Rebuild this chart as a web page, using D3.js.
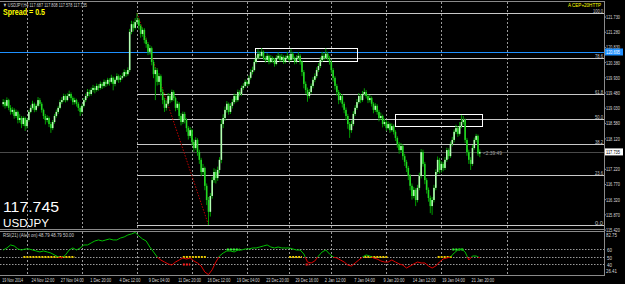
<!DOCTYPE html>
<html><head><meta charset="utf-8">
<script src="https://cdn.jsdelivr.net/npm/d3@7"></script>
<style>body{margin:0;background:#000;}svg{display:block;}text{font-family:"Liberation Sans",Arial,sans-serif;}</style>
</head><body><svg id="c" width="625" height="284"></svg>
<script>
const open = [119.15,119.21,119.10,119.27,119.04,118.92,118.98,118.80,118.92,118.68,
118.74,118.56,118.74,118.50,118.68,118.92,119.04,119.16,118.98,119.10,
119.27,119.16,118.98,118.80,118.68,118.74,118.56,118.44,118.62,118.80,
118.92,119.04,119.21,119.27,119.39,119.27,119.39,119.45,119.33,119.21,
119.27,119.16,119.04,118.92,119.10,119.27,119.39,119.51,119.45,119.57,
119.63,119.57,119.69,119.63,119.75,119.69,119.81,119.75,119.87,119.81,
119.93,119.75,119.87,119.98,119.87,119.93,119.98,120.10,120.04,120.16,
121.29,121.52,121.41,121.58,121.64,121.47,121.23,121.35,121.05,120.93,
120.70,120.81,120.40,120.04,120.16,119.81,119.98,119.51,119.27,119.04,
119.16,119.39,119.27,119.51,119.33,119.04,119.16,118.80,118.62,118.86,
118.68,118.44,118.21,118.38,118.03,117.85,118.09,117.73,117.50,117.14,
117.26,116.73,116.31,115.96,116.43,116.90,117.14,116.96,117.20,117.50,
118.56,118.74,118.98,119.16,118.92,119.10,119.21,119.39,119.27,119.51,
119.45,119.63,119.69,119.81,119.75,119.93,120.10,120.16,120.40,120.52,
120.64,120.58,120.70,120.52,120.46,120.58,120.40,120.52,120.46,120.34,
120.52,120.58,120.46,120.55,120.40,120.52,120.58,120.46,120.64,120.52,
120.40,120.52,120.58,120.40,120.10,119.75,119.57,119.39,119.51,119.69,
119.87,119.98,120.16,120.28,120.46,120.58,120.52,120.64,120.52,120.40,
120.16,119.93,119.69,119.51,119.27,119.39,119.16,118.98,118.80,118.56,
118.38,118.56,118.86,119.04,119.21,119.39,119.27,119.45,119.51,119.39,
119.27,119.33,119.16,118.98,119.10,118.92,118.74,118.80,118.56,118.62,
118.44,118.56,118.38,118.50,118.33,118.15,117.97,117.79,117.91,117.61,
117.44,117.26,117.02,116.73,116.43,116.61,116.31,116.67,117.02,117.73,
117.38,116.90,116.61,116.37,116.13,116.31,116.67,117.14,117.50,117.20,
117.38,117.26,117.50,117.79,117.61,117.97,118.09,118.33,118.44,118.27,
118.50,118.62,118.68,118.09,117.73,117.50,117.38,117.85,118.09,118.21,117.687];
const high = [119.30,119.28,119.35,119.31,119.12,119.06,119.03,118.99,118.96,118.85,
118.80,118.79,118.78,118.73,118.98,119.12,119.25,119.20,119.16,119.36,
119.33,119.21,119.02,118.86,118.82,118.79,118.62,118.68,118.86,118.99,
119.10,119.28,119.36,119.46,119.44,119.47,119.55,119.50,119.38,119.34,
119.31,119.21,119.09,119.16,119.33,119.46,119.60,119.58,119.64,119.72,
119.69,119.76,119.74,119.82,119.80,119.88,119.86,119.93,119.92,120.02,
119.97,119.94,120.06,120.03,120.01,120.08,120.18,120.16,120.24,121.38,
121.62,121.60,121.70,121.85,121.70,121.52,121.42,121.40,121.12,120.99,
120.90,120.86,120.46,120.24,120.22,120.07,120.03,119.60,119.34,119.26,
119.48,119.46,119.58,119.56,119.38,119.24,119.21,118.88,118.93,118.92,
118.73,118.50,118.47,118.42,118.10,118.17,118.14,117.80,117.56,117.38,
117.30,116.80,116.40,116.52,117.00,117.25,117.22,117.30,117.58,118.70,
118.85,119.08,119.24,119.20,119.18,119.30,119.46,119.45,119.58,119.56,
119.70,119.77,119.88,119.86,120.00,120.18,120.26,120.48,120.60,120.78,
120.72,120.81,120.74,120.58,120.66,120.62,120.60,120.57,120.52,120.60,
120.68,120.63,120.64,120.60,120.59,120.70,120.62,120.79,120.70,120.56,
120.60,120.69,120.63,120.45,120.16,119.82,119.64,119.60,119.76,119.95,
120.06,120.24,120.36,120.54,120.70,120.66,120.80,120.70,120.58,120.45,
120.22,119.98,119.75,119.57,119.48,119.44,119.22,119.05,118.86,118.62,
118.66,118.94,119.12,119.30,119.48,119.45,119.54,119.62,119.57,119.44,
119.42,119.38,119.21,119.18,119.15,118.98,118.90,118.84,118.72,118.68,
118.64,118.60,118.58,118.55,118.38,118.20,118.03,118.00,117.96,117.68,
117.50,117.32,117.08,116.80,116.70,116.66,116.76,117.12,117.82,117.80,
117.44,116.96,116.68,116.44,116.40,116.76,117.22,117.60,117.56,117.46,
117.44,117.58,117.86,117.84,118.04,118.18,118.40,118.54,118.50,118.62,
118.83,118.80,118.72,118.15,117.80,117.58,117.94,118.16,118.27,118.25,117.808];
const low = [119.08,119.02,119.05,118.97,118.84,118.85,118.72,118.74,118.58,118.60,
118.44,118.50,118.36,118.42,118.63,118.88,118.99,118.91,118.93,119.05,
119.09,118.90,118.71,118.55,118.61,118.47,118.30,118.38,118.57,118.75,
118.86,119.00,119.15,119.22,119.20,119.23,119.34,119.26,119.13,119.14,
119.08,118.95,118.80,118.87,119.05,119.21,119.33,119.38,119.40,119.50,
119.47,119.52,119.55,119.58,119.60,119.64,119.66,119.70,119.70,119.76,
119.56,119.68,119.82,119.78,119.80,119.88,119.94,119.96,119.99,120.10,
121.22,121.30,121.36,121.50,121.36,121.12,121.15,120.95,120.82,120.60,
120.62,120.30,119.92,119.27,119.70,119.72,119.40,119.15,118.92,118.96,
119.10,119.18,119.22,119.25,118.94,118.98,118.70,118.52,118.56,118.58,
118.33,118.10,118.15,117.92,117.74,117.80,117.62,117.38,117.02,117.06,
116.60,116.16,115.57,115.82,116.35,116.82,116.80,116.88,117.10,117.40,
118.44,118.66,118.90,118.84,118.86,119.02,119.15,119.20,119.22,119.38,
119.40,119.57,119.64,119.68,119.70,119.88,120.03,120.12,120.35,120.47,
120.50,120.54,120.46,120.38,120.42,120.33,120.36,120.38,120.26,120.30,
120.47,120.40,120.41,120.34,120.36,120.47,120.39,120.42,120.45,120.33,
120.35,120.46,120.32,119.98,119.62,119.46,119.22,119.32,119.46,119.62,
119.80,119.92,120.10,120.22,120.40,120.44,120.48,120.44,120.32,120.06,
119.82,119.58,119.40,119.15,119.20,119.05,118.88,118.68,118.42,118.15,
118.30,118.50,118.80,118.98,119.16,119.18,119.22,119.40,119.32,119.18,
119.20,119.08,118.88,118.92,118.84,118.64,118.68,118.46,118.50,118.36,
118.40,118.30,118.33,118.25,118.06,117.86,117.68,117.72,117.50,117.32,
117.14,116.90,116.60,116.32,116.36,116.13,116.24,116.60,116.95,117.30,
116.78,116.50,116.26,115.92,115.87,116.24,116.60,117.08,117.10,117.12,
117.16,117.20,117.44,117.52,117.56,117.90,118.02,118.26,118.18,118.22,
118.44,118.54,118.00,117.62,117.38,117.20,117.32,117.80,118.02,117.62,117.578];
const close = [119.21,119.10,119.27,119.04,118.92,118.98,118.80,118.92,118.68,118.74,
118.56,118.74,118.50,118.68,118.92,119.04,119.16,118.98,119.10,119.27,
119.16,118.98,118.80,118.68,118.74,118.56,118.44,118.62,118.80,118.92,
119.04,119.21,119.27,119.39,119.27,119.39,119.45,119.33,119.21,119.27,
119.16,119.04,118.92,119.10,119.27,119.39,119.51,119.45,119.57,119.63,
119.57,119.69,119.63,119.75,119.69,119.81,119.75,119.87,119.81,119.93,
119.75,119.87,119.98,119.87,119.93,119.98,120.10,120.04,120.16,121.29,
121.52,121.41,121.58,121.64,121.47,121.23,121.35,121.05,120.93,120.70,
120.81,120.40,120.04,120.16,119.81,119.98,119.51,119.27,119.04,119.16,
119.39,119.27,119.51,119.33,119.04,119.16,118.80,118.62,118.86,118.68,
118.44,118.21,118.38,118.03,117.85,118.09,117.73,117.50,117.14,117.26,
116.73,116.31,115.96,116.43,116.90,117.14,116.96,117.20,117.50,118.56,
118.74,118.98,119.16,118.92,119.10,119.21,119.39,119.27,119.51,119.45,
119.63,119.69,119.81,119.75,119.93,120.10,120.16,120.40,120.52,120.64,
120.58,120.70,120.52,120.46,120.58,120.40,120.52,120.46,120.34,120.52,
120.58,120.46,120.55,120.40,120.52,120.58,120.46,120.64,120.52,120.40,
120.52,120.58,120.40,120.10,119.75,119.57,119.39,119.51,119.69,119.87,
119.98,120.16,120.28,120.46,120.58,120.52,120.64,120.52,120.40,120.16,
119.93,119.69,119.51,119.27,119.39,119.16,118.98,118.80,118.56,118.38,
118.56,118.86,119.04,119.21,119.39,119.27,119.45,119.51,119.39,119.27,
119.33,119.16,118.98,119.10,118.92,118.74,118.80,118.56,118.62,118.44,
118.56,118.38,118.50,118.33,118.15,117.97,117.79,117.91,117.61,117.44,
117.26,117.02,116.73,116.43,116.61,116.31,116.67,117.02,117.73,117.38,
116.90,116.61,116.37,116.13,116.31,116.67,117.14,117.50,117.20,117.38,
117.26,117.50,117.79,117.61,117.97,118.09,118.33,118.44,118.27,118.50,
118.62,118.68,118.09,117.73,117.50,117.38,117.85,118.09,118.21,117.687,117.735];
// RSI(21), read every second bar
const rsi = [59.3,62,66,64.7,60.7,59.3,60.7,60.7,59.3,58,
56.7,58,56.7,55.3,52.7,50,48.7,52.7,59.3,62,
59.3,62,66,66,68.7,71.3,72.7,71.3,72.7,74,
72.7,72.7,75.3,76.7,79.3,80.7,82.7,78,74,71.3,
63.3,56.7,50,46,43.3,40.7,39.3,43.3,46,48.7,
47.3,48.7,44.7,42,38,30,26.5,33,43.3,51.3,
55.3,58,58,56.7,59.3,59.3,60.7,60.7,62,62,
63.3,64.7,66,63.3,62,63.3,62,62,62,60.7,
59.3,59.3,54,43.3,42,44.7,51.3,56.7,59.3,54,
50,48.7,46,43.3,39.3,38,42,46,50,52.7,
51.3,48.7,47.3,44.7,43.3,43.3,46,43.3,40.7,39.3,
35.3,38,40.7,43.3,42,42,38,35.3,38,43.3,
47.3,48.7,50,55.3,59.3,60.7,56.7,46,51.3,51.3,48.8];
const priceTicks = [121.730,121.280,120.830,120.380,119.930,119.480,119.030,118.580,118.120,117.220,116.770,116.320,115.870,115.420];
const rsiLevels = [60,50,40];
const fibLevels = [100.0,78.6,61.8,50.0,38.2,23.6,0.0];
const fibHigh = 121.85, fibLow = 115.57;
const timeLabels = ["19 Nov 2014","24 Nov 12:00","27 Nov 04:00","1 Dec 20:00","4 Dec 12:00","9 Dec 04:00","11 Dec 20:00","16 Dec 12:00","19 Dec 04:00","23 Dec 20:00","29 Dec 16:00","2 Jan 12:00","7 Jan 04:00","9 Jan 20:00","14 Jan 12:00","19 Jan 04:00","21 Jan 20:00"];
const gridBars = [13,43,73,103,133,156,179,209,239,275];
const boxes = [[137.4,193,120.81,120.43],[214,261.2,118.86,118.50]];
const trend = [[73,121.85],[112,115.57]];
const signalBands = [[11,39,50,"#e8c800"],[98,111,50,"#e8c800"],[156,163,50,"#e8c800"],[197,210,50,"#e8c800"],[237,245,50,"#e8c800"],[122,129,60,"#33ff33"],[245,251,60,"#33ff33"],[98,102,40,"#ff2020"],[165,167,40,"#ff2020"]];
const bluePrice = 120.695, bidPrice = 117.735;

const svg = d3.select("#c");
const x = d3.scaleLinear().domain([0,260]).range([3.2,479.8]);
const y = d3.scaleLinear().domain([115.57,121.85]).range([225,13]);
const yr = d3.scaleLinear().domain([26.41,82.75]).range([274.7,232.4]);
const AX = 604;
const grey="#8a8a8a";
const fs = (sel,size,len)=>sel.attr("font-size",size+"px").attr("textLength",len).attr("lengthAdjust","spacingAndGlyphs");

// panels
[[1.5],[229.5],[231.5],[275.5]].forEach(([yy])=>svg.append("line").attr("x1",0).attr("x2",AX).attr("y1",yy).attr("y2",yy).attr("stroke",grey));
svg.append("line").attr("x1",AX+0.5).attr("x2",AX+0.5).attr("y1",1).attr("y2",276).attr("stroke",grey);

// vertical grid
gridBars.forEach(b=>{
  const gx=Math.round(x(b))+0.5;
  if(gx>AX) return;
  svg.append("line").attr("x1",gx).attr("x2",gx).attr("y1",2).attr("y2",229).attr("stroke","#9a9a9a").attr("stroke-dasharray","2,2");
  svg.append("line").attr("x1",gx).attr("x2",gx).attr("y1",232).attr("y2",275).attr("stroke","#9a9a9a").attr("stroke-dasharray","2,2");
});

// fib lines
const fx0 = x(trend[0][0]);
fibLevels.forEach(l=>{
  const p = fibLow + (fibHigh-fibLow)*l/100;
  const yy = Math.round(y(p))+0.5;
  svg.append("line").attr("x1",fx0).attr("x2",AX).attr("y1",yy).attr("y2",yy).attr("stroke","#c8c8c8");
  fs(svg.append("text").attr("x",603).attr("y",yy-1).attr("text-anchor","end").attr("fill","#c8c8c8"),5,l===100?10:8).text(l.toFixed(1));
});

// blue line and bid line
svg.append("line").attr("x1",0).attr("x2",AX).attr("y1",Math.round(y(bluePrice))+0.5).attr("y2",Math.round(y(bluePrice))+0.5).attr("stroke","#1e90ff");
svg.append("line").attr("x1",0).attr("x2",AX).attr("y1",Math.round(y(bidPrice))+0.5).attr("y2",Math.round(y(bidPrice))+0.5).attr("stroke","#4a4a4a");

// boxes
boxes.forEach(b=>{
  const x0=Math.round(x(b[0]))+0.5, y0=Math.round(y(b[2]))+0.5;
  svg.append("rect").attr("x",x0).attr("y",y0).attr("width",Math.round(x(b[1])-x(b[0]))).attr("height",Math.round(y(b[3])-y(b[2]))).attr("fill","none").attr("stroke","#ffffff");
});

// trendline
svg.append("line").attr("x1",x(trend[0][0])).attr("y1",y(trend[0][1])).attr("x2",x(trend[1][0])).attr("y2",y(trend[1][1])).attr("stroke","#c00000").attr("stroke-dasharray","1.5,1.5");

// candles
const cg = svg.append("g");
close.forEach((c,i)=>{
  const o=open[i], cx = x(i);
  cg.append("line").attr("x1",cx).attr("x2",cx).attr("y1",y(high[i])).attr("y2",y(low[i])).attr("stroke","#009a00").attr("stroke-width",1);
  const top=y(Math.max(o,c)), bot=y(Math.min(o,c));
  cg.append("rect").attr("x",cx-0.8).attr("width",1.6).attr("y",top).attr("height",Math.max(0.8,bot-top)).attr("fill",c>=o?"#b4ffb4":"#22d822");
});

// price axis
priceTicks.forEach(p=>{
  const yy=y(p);
  svg.append("line").attr("x1",AX).attr("x2",AX+2).attr("y1",yy).attr("y2",yy).attr("stroke",grey);
  fs(svg.append("text").attr("x",606).attr("y",yy+2).attr("fill","#d8d8d8"),5,14).text(p.toFixed(3));
});
[[bluePrice,"#1e90ff","#ffffff"],[bidPrice,"#ffffff","#000000"]].forEach(([p,bg,fg])=>{
  const yy=y(p);
  svg.append("rect").attr("x",AX+1).attr("y",yy-3.5).attr("width",18).attr("height",7).attr("fill",bg);
  fs(svg.append("text").attr("x",606).attr("y",yy+2).attr("fill",fg),5,14).text(p.toFixed(3));
});

// RSI levels
rsiLevels.forEach(v=>{
  const yy=Math.round(yr(v))+0.5;
  svg.append("line").attr("x1",0).attr("x2",AX).attr("y1",yy).attr("y2",yy).attr("stroke","#9a9a9a").attr("stroke-dasharray","1.5,1.5");
  fs(svg.append("text").attr("x",607).attr("y",yy+2).attr("fill","#d8d8d8"),5.5,5).text(v);
});
fs(svg.append("text").attr("x",606).attr("y",237).attr("fill","#d8d8d8"),5.5,11).text("82.75");
fs(svg.append("text").attr("x",606).attr("y",273).attr("fill","#d8d8d8"),5.5,11).text("26.41");

// signal bands
signalBands.forEach(([a,b,lv,col])=>{
  svg.append("line").attr("x1",x(a)).attr("x2",x(b)).attr("y1",yr(lv)).attr("y2",yr(lv)).attr("stroke",col).attr("stroke-width",2).attr("stroke-dasharray","2,1");
});

// RSI line coloured above/below 50
const defs = svg.append("defs");
defs.append("clipPath").attr("id","above").append("rect").attr("x",0).attr("y",230).attr("width",AX).attr("height",yr(50)-230);
defs.append("clipPath").attr("id","below").append("rect").attr("x",0).attr("y",yr(50)).attr("width",AX).attr("height",276-yr(50));
const rline = d3.line().x((d,i)=>x(i*2)).y(d=>yr(d));
svg.append("path").attr("d",rline(rsi)).attr("fill","none").attr("stroke","#00c000").attr("clip-path","url(#above)");
svg.append("path").attr("d",rline(rsi)).attr("fill","none").attr("stroke","#e00000").attr("clip-path","url(#below)");

// time labels
timeLabels.forEach((t,k)=>{
  fs(svg.append("text").attr("x",x(k*16)-1).attr("y",282).attr("fill","#d8d8d8"),5.2,t.length*1.9).text(t);
});

// texts
fs(svg.append("text").attr("x",3).attr("y",6.5).attr("fill","#d0d0d0"),5.5,84).text("▼ USDJPY,H4  117.687 117.808 117.578 117.735");
fs(svg.append("text").attr("x",3).attr("y",14.5).attr("font-weight","bold").attr("fill","#ffff00"),9,42).text("Spread = 0.5");
fs(svg.append("text").attr("x",568).attr("y",7).attr("fill","#ffff00"),4.8,33).text("A CEP+20HTTP");
fs(svg.append("text").attr("x",3).attr("y",212).attr("fill","#ffffff"),15,56).text("117.745");
fs(svg.append("text").attr("x",3).attr("y",227).attr("fill","#ffffff"),11,46).text("USDJPY");
fs(svg.append("text").attr("x",3).attr("y",237).attr("fill","#d0d0d0"),5.5,71).text("RSI(21) (Alert on) 48.79 48.79 50.00");
fs(svg.append("text").attr("x",483).attr("y",155).attr("fill","#a0a0a0"),5.5,19).text("<2:39:49");
</script></body></html>
